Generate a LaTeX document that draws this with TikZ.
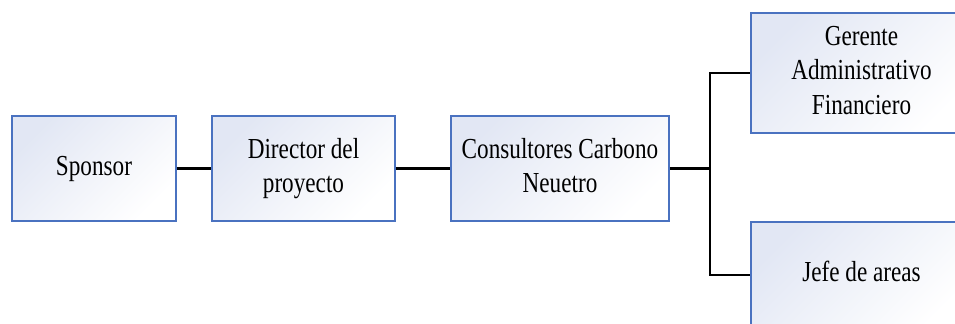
\documentclass[tikz,border=0pt]{standalone}
\usepackage{fontspec}
\setmainfont{Liberation Serif}
\usepackage{graphicx}
\usepackage{tikz}
\usetikzlibrary{calc,positioning}
\definecolor{orgline}{RGB}{74,114,192}
\definecolor{orgfill}{RGB}{226,231,244}
% narrow Times-like text, as in the chart
\newcommand{\orgtxt}[1]{\scalebox{0.8}[1]{\begin{tabular}{@{}c@{}}#1\end{tabular}}}
\tikzset{
  org/.style={rectangle, draw=orgline, line width=1pt, top color=orgfill, bottom color=white, shading angle=45, text centered, inner sep=2pt, font=\fontsize{16.5}{19.9}\selectfont},
  link/.style={draw=black, line width=1.5pt},
}
\begin{document}
\begin{tikzpicture}
  \useasboundingbox (0,0) rectangle (19.1,6.46);
  \node[org, minimum width=3.28cm, minimum height=2.1cm] (spon) at (1.88,3.09) {\orgtxt{Sponsor}};
  \node[org, minimum width=3.66cm, minimum height=2.1cm] (dir) at (6.07,3.09) {\orgtxt{Director del\\proyecto}};
  \node[org, minimum width=4.36cm, minimum height=2.1cm] (cons) at (11.2,3.09) {\orgtxt{Consultores Carbono\\Neuetro}};
  \node[org, minimum width=4.42cm, minimum height=2.4cm] (ger) at (17.23,5.0) {\orgtxt{Gerente\\Administrativo\\Financiero}};
  \node[org, minimum width=4.42cm, minimum height=2.12cm] (jefe) at (17.23,0.96) {\orgtxt{Jefe de areas}};
  \coordinate (split) at (14.2,3.09);

  \path[link]
    (spon) -- (dir)
    (dir) -- (cons)
    (cons) -- (split)
    (split) |- (ger.west)
    (split) |- (jefe.west);
\end{tikzpicture}
\end{document}
